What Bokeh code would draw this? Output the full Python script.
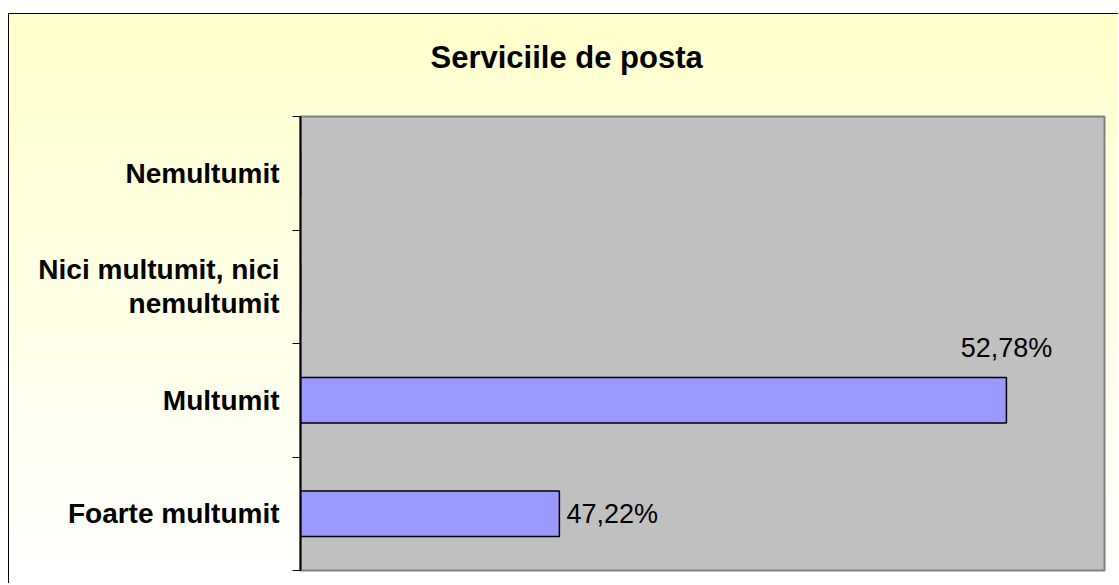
from bokeh.plotting import figure
from bokeh.models import Range1d, FixedTicker, ColumnDataSource, Title
from bokeh.embed import file_html
from bokeh.resources import INLINE
from bokeh.core.properties import value

# ---- data ----
categories = ["Foarte multumit", "Multumit", "Nici multumit, nici\nnemultumit", "Nemultumit"]
percentages = [47.22, 52.78, None, None]
title_text = "Serviciile de posta"
x_start, x_end = 44, 54

FONT = "Liberation Sans"
n = len(categories)
centers = [i + 0.5 for i in range(n)]
bounds = list(range(n + 1))
vals = [v if v is not None else 0 for v in percentages]

p = figure(width=1110, height=570, output_backend="svg", toolbar_location=None,
           x_range=Range1d(x_start, x_end), y_range=Range1d(0, n),
           x_axis_location=None, title_location=None,
           min_border_left=291, min_border_right=15,
           min_border_top=102, min_border_bottom=14)
p.border_fill_color = None
p.background_fill_color = "#C0C0C0"
p.outline_line_color = "#808080"
p.outline_line_width = 2
p.grid.visible = False
p.styles = {
    "margin-top": "13px",
    "margin-left": "8px",
    "border-top": "1px solid #000000",
    "border-left": "1px solid #000000",
    "background": "linear-gradient(to bottom, #FFFFCC 0%, #FFFFFF 100%)",
}

p.hbar(y=centers, left=0, right=vals, height=0.4,
       fill_color="#9999FF", line_color="black", line_width=1.5)

# y axis
ya = p.yaxis[0]
ya.ticker = FixedTicker(ticks=centers, minor_ticks=bounds)
ya.major_label_overrides = {c: lab for c, lab in zip(centers, categories)}
ya.major_tick_out = 0
ya.major_tick_in = 0
ya.minor_tick_out = 8
ya.minor_tick_in = 0
ya.minor_tick_line_color = "black"
ya.axis_line_color = "black"
ya.axis_line_width = 2
ya.major_label_text_font = FONT
ya.major_label_text_font_style = "bold"
ya.major_label_text_font_size = "28px"
ya.major_label_text_color = "black"
ya.major_label_text_line_height = 1.1
ya.major_label_standoff = 13

# data labels
def fmt(v):
    return f"{v:.2f}%".replace(".", ",")

right_src = dict(x=[], y=[], t=[])
above_src = dict(x=[], y=[], t=[])
for c, v in zip(centers, percentages):
    if v is None:
        continue
    frac = (v - x_start) / (x_end - x_start)
    d = above_src if frac > 0.8 else right_src
    d["x"].append(v)
    d["y"].append(c)
    d["t"].append(fmt(v))

p.text(x="x", y="y", text="t", source=ColumnDataSource(right_src),
       x_offset=7, text_align="left", text_baseline="middle",
       text_font=value(FONT), text_font_size="27px", text_color="black")
p.text(x="x", y="y", text="t", source=ColumnDataSource(above_src),
       y_offset=-52, text_align="center", text_baseline="alphabetic",
       text_font=value(FONT), text_font_size="27px", text_color="black")

# title (a thin blank title keeps the gap between title and plot area)
spacer = Title(text=" ", text_font_size="1px", standoff=34)
p.add_layout(spacer, "above")
main_title = Title(text=title_text, align="left", offset=130, standoff=10,
                   text_font=FONT, text_font_style="bold",
                   text_font_size="31px", text_color="black")
p.add_layout(main_title, "above")

open("out.html", "w").write(file_html(p, INLINE))
